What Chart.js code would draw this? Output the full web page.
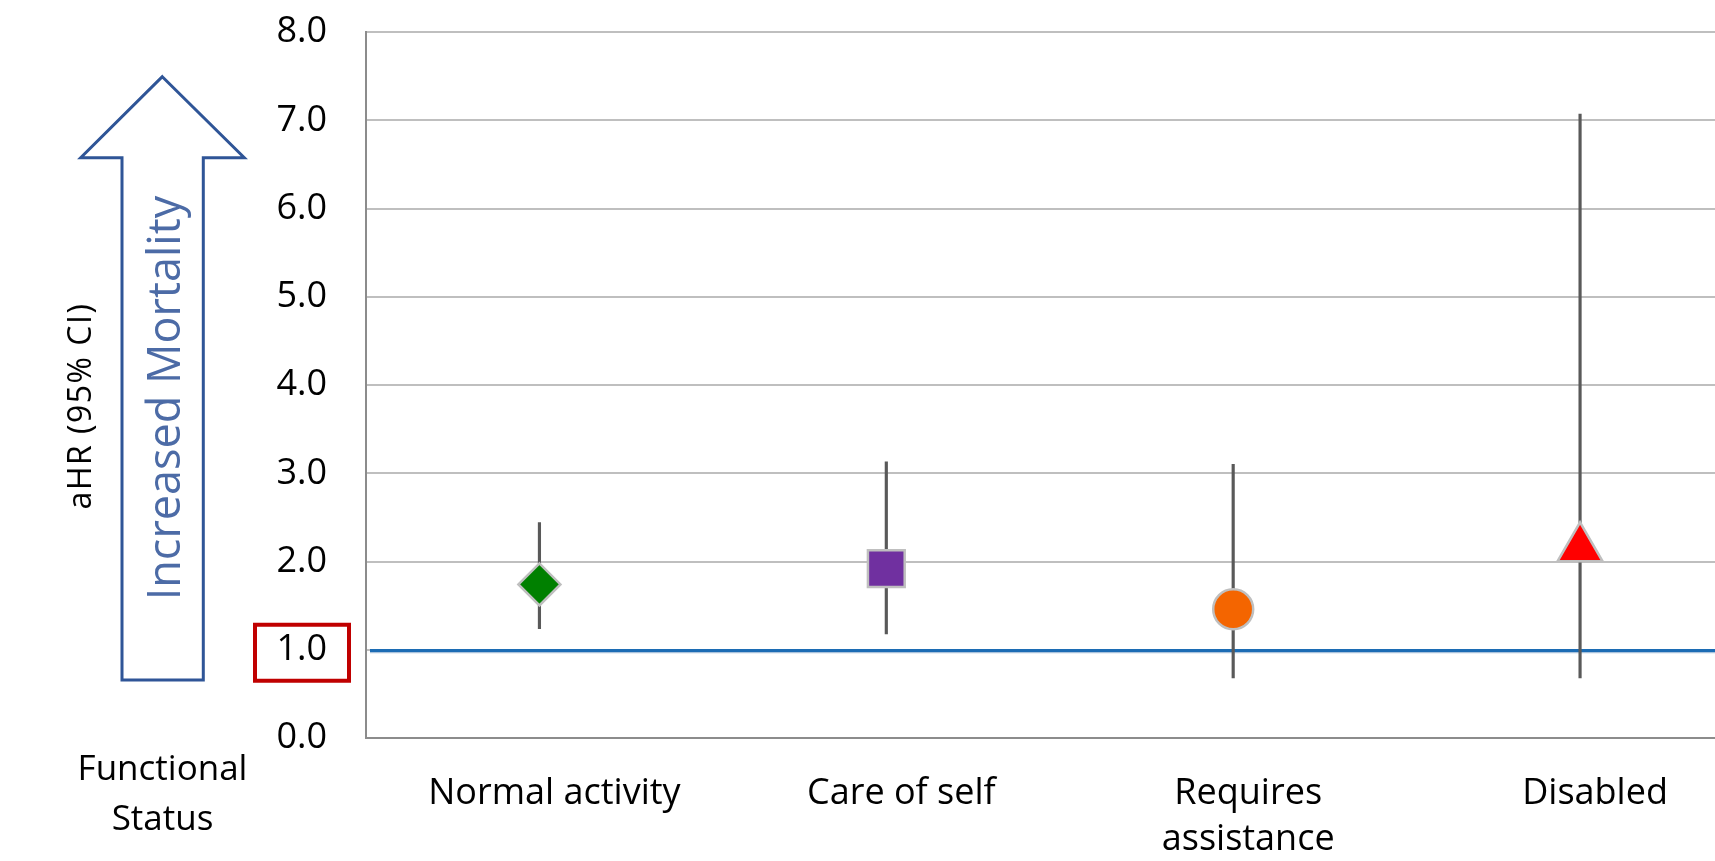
<!DOCTYPE html>
<html>
<head>
<meta charset="utf-8">
<script src="https://cdn.jsdelivr.net/npm/chart.js@4"></script>
<style>
  html, body { margin: 0; padding: 0; background: #ffffff; overflow: hidden; }
  #wrap { width: 1782px; height: 861px; }
</style>
</head>
<body>
<div id="wrap"><canvas id="c" width="1782" height="861"></canvas></div>
<script>
// ---- data ----
const categories = ['Normal activity', 'Care of self', ['Requires', 'assistance'], 'Disabled'];
const hazardRatio = [1.74, 1.92, 1.46, 2.15];
const ciLower = [1.24, 1.18, 0.68, 0.68];
const ciUpper = [2.44, 3.13, 3.10, 7.07];
const yMin = 0;
const yMax = 8;
const yStep = 1;
const referenceValue = 1.0;
const yAxisTitle = 'aHR (95% CI)';
const arrowLabel = 'Increased Mortality';
const xAxisTitle = ['Functional', 'Status'];

// ---- styles ----
const markerStyles = ['rectRot', 'rect', 'circle', 'triangle'];
const markerColors = ['#008000', '#7030A0', '#F46500', '#FF0000'];
const markerRadii = [21, 26, 20, 26];
const FONT = '"Open Sans", "Noto Sans", sans-serif';

const ciData = ciLower.map((lo, i) => [lo, ciUpper[i]]);

const annotations = {
  id: 'annotations',
  beforeDatasetsDraw(chart) {
    const { ctx, chartArea, scales: { y } } = chart;
    const yy = Math.round(y.getPixelForValue(referenceValue)) + 0.5;
    ctx.save();
    ctx.beginPath();
    ctx.moveTo(chartArea.left + 4, yy + 2);
    ctx.lineTo(chartArea.right, yy + 2);
    ctx.strokeStyle = '#A9C2DC';
    ctx.lineWidth = 1.5;
    ctx.stroke();
    ctx.beginPath();
    ctx.moveTo(chartArea.left + 4, yy);
    ctx.lineTo(chartArea.right, yy);
    ctx.strokeStyle = '#1C6CB4';
    ctx.lineWidth = 3;
    ctx.stroke();
    ctx.restore();
  },
  afterDraw(chart) {
    const { ctx, scales: { y } } = chart;
    ctx.save();
    // block arrow (decoration)
    ctx.beginPath();
    ctx.moveTo(162.3, 76.7);
    ctx.lineTo(244.3, 157.7);
    ctx.lineTo(203.3, 157.7);
    ctx.lineTo(203.3, 680);
    ctx.lineTo(122, 680);
    ctx.lineTo(122, 157.7);
    ctx.lineTo(80.7, 157.7);
    ctx.closePath();
    ctx.fillStyle = '#ffffff';
    ctx.fill();
    ctx.lineWidth = 3;
    ctx.lineJoin = 'miter';
    ctx.strokeStyle = '#2F5597';
    ctx.stroke();

    // arrow label
    ctx.save();
    ctx.translate(179.5, 398);
    ctx.rotate(-Math.PI / 2);
    ctx.font = '45px ' + FONT;
    ctx.fillStyle = '#4C6BA6';
    ctx.textAlign = 'center';
    ctx.textBaseline = 'alphabetic';
    ctx.fillText(arrowLabel, 0, 0);
    ctx.restore();

    // y axis title
    ctx.save();
    ctx.translate(91, 406);
    ctx.rotate(-Math.PI / 2);
    ctx.font = '32px ' + FONT;
    if ('letterSpacing' in ctx) ctx.letterSpacing = '1.5px';
    ctx.fillStyle = '#000000';
    ctx.textAlign = 'center';
    ctx.textBaseline = 'alphabetic';
    ctx.fillText(yAxisTitle, 0, 0);
    ctx.restore();

    // x axis title at lower left
    ctx.font = '35px ' + FONT;
    ctx.fillStyle = '#000000';
    ctx.textAlign = 'center';
    ctx.textBaseline = 'alphabetic';
    ctx.fillText(xAxisTitle[0], 162.5, 779.5);
    ctx.fillText(xAxisTitle[1], 162.5, 829.5);

    // red box around reference tick label
    const yy = y.getPixelForValue(referenceValue);
    ctx.lineWidth = 4;
    ctx.strokeStyle = '#C00000';
    ctx.strokeRect(255, yy - 25, 94, 56);
    ctx.restore();
  }
};

new Chart(document.getElementById('c'), {
  type: 'bar',
  data: {
    labels: categories,
    datasets: [
      {
        type: 'line',
        label: 'aHR',
        data: hazardRatio,
        showLine: false,
        order: 1,
        pointStyle: markerStyles,
        pointRadius: markerRadii,
        pointHoverRadius: markerRadii,
        pointBackgroundColor: markerColors,
        pointBorderColor: '#BFBFBF',
        pointBorderWidth: 2.5,
        pointHoverBorderWidth: 2.5
      },
      {
        type: 'bar',
        label: '95% CI',
        data: ciData,
        order: 2,
        grouped: false,
        backgroundColor: '#595959',
        borderWidth: 0,
        barThickness: 2.5
      }
    ]
  },
  options: {
    responsive: false,
    devicePixelRatio: 1,
    animation: false,
    events: [],
    layout: { padding: { top: 32, left: 0, right: 0, bottom: 0 } },
    plugins: {
      legend: { display: false },
      tooltip: { enabled: false },
      title: { display: false }
    },
    scales: {
      x: {
        type: 'category',
        offset: true,
        grid: { display: false, drawTicks: false },
        border: { display: true, color: '#8C8C8C', width: 2 },
        ticks: {
          color: '#000000',
          font: { family: FONT, size: 36, lineHeight: 1.27 },
          padding: 33,
          labelOffset: 15,
          maxRotation: 0,
          minRotation: 0,
          autoSkip: false
        },
        afterFit(scale) {
          scale.height = 123;
          scale.paddingLeft = 0;
          scale.paddingRight = 0;
        }
      },
      y: {
        min: yMin,
        max: yMax,
        grid: { color: '#BFBFBF', lineWidth: 2, drawTicks: false },
        border: { display: true, color: '#8C8C8C', width: 2 },
        ticks: {
          stepSize: yStep,
          color: '#000000',
          font: { family: FONT, size: 36 },
          padding: 39,
          callback: (v) => Number(v).toFixed(1)
        },
        afterFit(scale) {
          scale.width = 366;
          scale.paddingTop = 10;
          scale.paddingBottom = 10;
        }
      }
    }
  },
  plugins: [annotations]
});
</script>
</body>
</html>
